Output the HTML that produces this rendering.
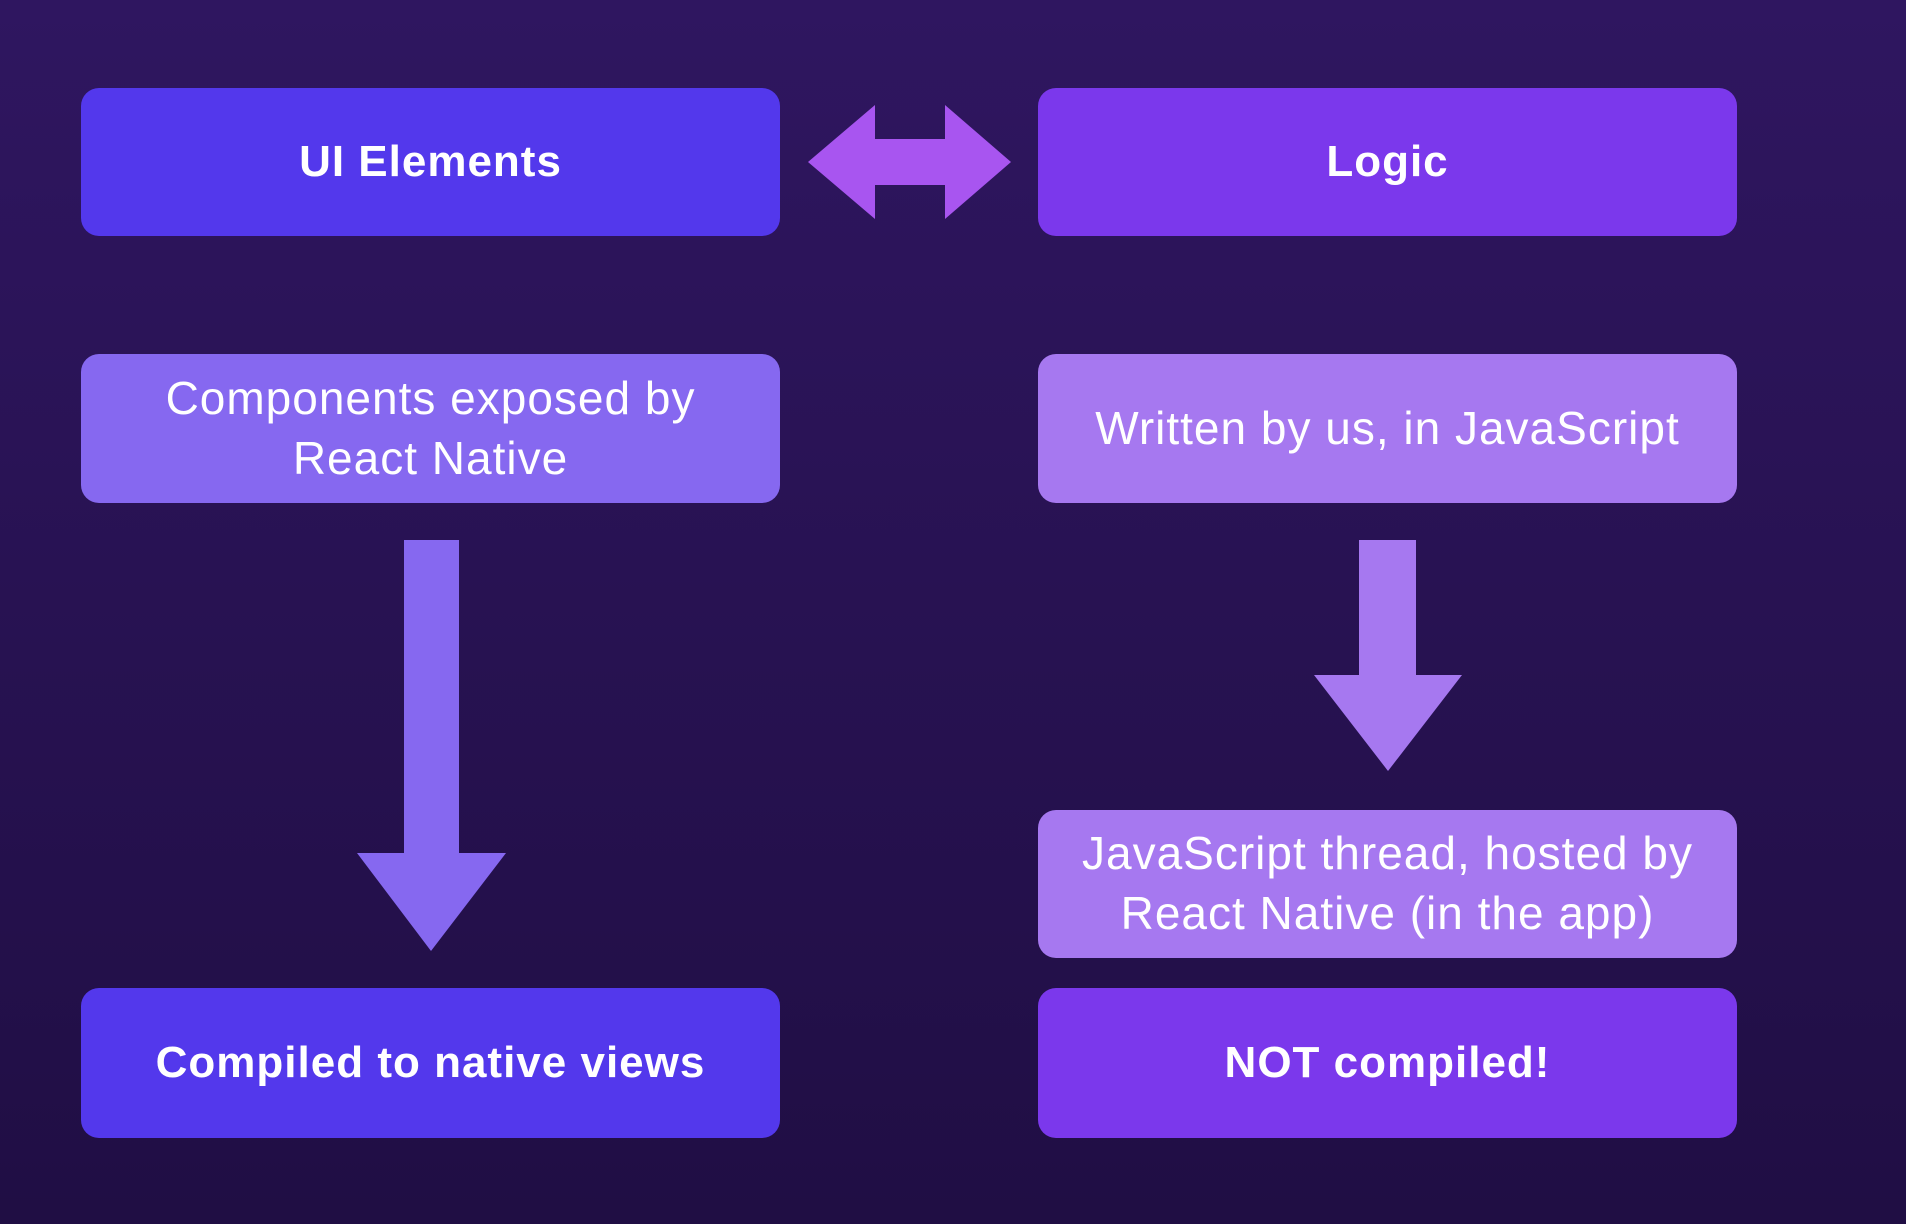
<!DOCTYPE html>
<html><head><style>
html,body{margin:0;padding:0}
body{width:1906px;height:1224px;position:relative;overflow:hidden;background:linear-gradient(#2f1660,#200e44);font-family:"Liberation Sans",sans-serif;color:#fff}
.b{position:absolute;border-radius:18px;display:flex;align-items:center;justify-content:center;text-align:center;line-height:1.3}
.t{font-weight:bold;font-size:44px;letter-spacing:1px}
.r{font-size:46px;letter-spacing:1px}
</style></head><body>
<div class="b t" style="left:81px;top:88px;width:699px;height:148px;background:#5338ec">UI Elements</div>
<div class="b t" style="left:1038px;top:88px;width:699px;height:148px;background:#7b38ec">Logic</div>
<div class="b r" style="left:81px;top:354px;width:699px;height:149px;background:#8668f0">Components exposed by<br>React Native</div>
<div class="b r" style="left:1038px;top:354px;width:699px;height:149px;background:#a678f0">Written by us, in JavaScript</div>
<div class="b r" style="left:1038px;top:810px;width:699px;height:148px;background:#a678f0">JavaScript thread, hosted by<br>React Native (in the app)</div>
<div class="b t" style="left:81px;top:988px;width:699px;height:150px;background:#5338ec">Compiled to native views</div>
<div class="b t" style="left:1038px;top:988px;width:699px;height:150px;background:#7b38ec">NOT compiled!</div>
<svg width="1906" height="1224" style="position:absolute;left:0;top:0">
<polygon points="808,162 875,105 875,139 945,139 945,105 1011,162 945,219 945,185 875,185 875,219" fill="#a855f0"/>
<polygon points="404,540 459,540 459,853 506,853 431,951 357,853 404,853" fill="#8668f0"/>
<polygon points="1359,540 1416,540 1416,675 1462,675 1388,771 1314,675 1359,675" fill="#a678f0"/>
</svg>
</body></html>
